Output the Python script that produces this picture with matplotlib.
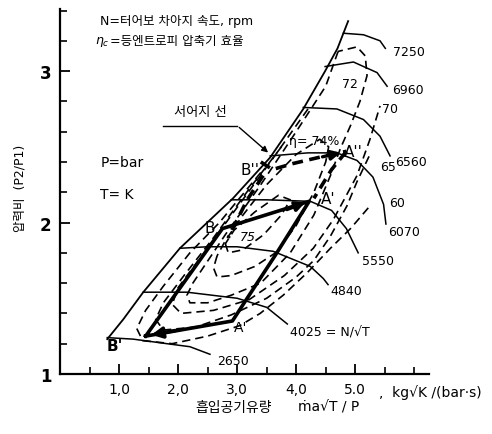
import numpy as np
import matplotlib.pyplot as plt
from matplotlib.ticker import MultipleLocator

plt.rcParams['font.family'] = ['DejaVu Sans', 'Noto Sans CJK KR']

# surge line
surge_x = [0.80, 1.07, 1.41, 2.03, 2.93, 3.56, 4.12, 4.49, 4.70, 4.88]
surge_y = [1.23, 1.36, 1.54, 1.83, 2.16, 2.43, 2.75, 3.00, 3.15, 3.33]

# constant speed lines (N/sqrt(T))
speed_labels = ['2650', '4025 = N/√T', '4840', '5550', '6070', '6560', '6960', '7250']
speed_x = [
    [0.80, 1.24, 1.81, 2.20, 2.54],
    [1.41, 2.15, 3.00, 3.50, 3.85],
    [2.03, 2.50, 3.00, 3.61, 4.24, 4.46, 4.54],
    [2.90, 3.50, 4.24, 4.60, 4.85, 5.05],
    [3.56, 4.20, 4.69, 5.03, 5.30, 5.48, 5.52],
    [4.12, 4.69, 5.14, 5.42, 5.59],
    [4.49, 4.97, 5.37, 5.54],
    [4.80, 5.14, 5.42, 5.51],
]
speed_y = [
    [1.24, 1.23, 1.20, 1.18, 1.13],
    [1.54, 1.54, 1.50, 1.44, 1.33],
    [1.83, 1.84, 1.84, 1.81, 1.71, 1.63, 1.59],
    [2.15, 2.15, 2.14, 2.08, 1.96, 1.80],
    [2.44, 2.46, 2.46, 2.41, 2.30, 2.12, 1.99],
    [2.76, 2.75, 2.68, 2.57, 2.44],
    [3.03, 3.06, 2.99, 2.90],
    [3.25, 3.24, 3.20, 3.15],
]
speed_lab_pos = [(2.66, 1.09), (3.90, 1.28), (4.58, 1.55), (5.12, 1.75),
                 (5.55, 1.94), (5.68, 2.40), (5.63, 2.88), (5.64, 3.13)]

# efficiency contours (dashed)
eff_labels = ['60', '65', '70', '72', '74', '75']
eff_x = [
    [3.40, 2.70, 2.20, 1.75, 1.45, 1.30, 1.40, 1.90, 2.50, 3.05, 3.39, 3.78, 4.19, 4.58, 4.92, 5.25],
    [3.75, 3.20, 2.60, 2.10, 1.75, 1.62, 1.75, 2.30, 2.90, 3.50, 4.00, 4.30, 4.58, 4.86, 5.03, 5.25],
    [4.20, 3.60, 3.00, 2.40, 2.00, 1.90, 2.05, 2.60, 3.20, 3.80, 4.29, 4.63, 5.03, 5.25, 5.42],
    [4.71, 4.50, 4.00, 3.40, 2.80, 2.25, 2.15, 2.20, 2.50, 2.90, 3.40, 3.90, 4.30, 4.58, 4.75, 4.92, 5.08, 5.20, 5.17, 5.03, 4.71],
    [2.66, 2.60, 2.66, 2.90, 3.30, 3.65, 4.00, 4.30, 4.50, 4.55, 4.40, 4.00, 3.50, 3.10, 2.80, 2.66],
    [2.80, 2.85, 3.10, 3.45, 3.75, 3.90, 3.70, 3.30, 2.95, 2.80],
]
eff_y = [
    [2.33, 2.00, 1.80, 1.58, 1.42, 1.30, 1.22, 1.20, 1.25, 1.32, 1.40, 1.52, 1.67, 1.83, 1.96, 2.11],
    [2.50, 2.22, 1.90, 1.65, 1.47, 1.36, 1.29, 1.31, 1.39, 1.50, 1.64, 1.75, 1.91, 2.11, 2.27, 2.45],
    [2.75, 2.42, 2.10, 1.78, 1.57, 1.46, 1.40, 1.42, 1.49, 1.65, 1.83, 2.02, 2.31, 2.55, 2.77],
    [3.13, 2.90, 2.60, 2.25, 1.92, 1.60, 1.52, 1.47, 1.47, 1.52, 1.60, 1.80, 2.05, 2.31, 2.49, 2.64, 2.80, 2.97, 3.10, 3.16, 3.13],
    [1.78, 1.70, 1.64, 1.65, 1.71, 1.80, 1.98, 2.20, 2.40, 2.50, 2.55, 2.45, 2.25, 2.05, 1.88, 1.78],
    [1.86, 1.80, 1.82, 1.92, 2.05, 2.15, 2.18, 2.07, 1.95, 1.86],
]

# operating paths
solid_x = [1.45, 2.75, 4.22, 3.64, 3.17, 2.92, 1.45]
solid_y = [1.25, 1.96, 2.14, 1.78, 1.50, 1.35, 1.25]
dash1_x = [3.40, 3.60, 3.95, 4.60, 4.85]
dash1_y = [2.40, 2.35, 2.39, 2.45, 2.47]
dash2_x = [3.44, 3.17, 2.85]
dash2_y = [2.31, 2.15, 1.90]
dash3_x = [4.85, 4.60, 4.30]
dash3_y = [2.47, 2.35, 2.16]

fig = plt.figure(figsize=(4.92, 4.35), dpi=100)
ax = fig.add_axes([0.122, 0.138, 0.75, 0.839])
ax.set_xlim(0, 6.25)
ax.set_ylim(1, 3.41)

for s in ['top', 'right']:
    ax.spines[s].set_visible(False)
for s in ['left', 'bottom']:
    ax.spines[s].set_linewidth(1.6)

ax.set_xticks([1, 2, 3, 4, 5])
ax.set_xticklabels(['1,0', '2,0', '3,0', '4,0', '5.0'], fontsize=10)
ax.set_yticks([1, 2, 3])
ax.set_yticklabels(['1', '2', '3'], fontsize=12, fontweight='bold')
ax.xaxis.set_minor_locator(MultipleLocator(0.5))
ax.yaxis.set_minor_locator(MultipleLocator(0.2))
ax.tick_params(which='major', direction='in', length=7, width=1.3, pad=6)
ax.tick_params(which='minor', direction='in', length=5, width=1.2)
ax.text(5.4, 0.885, ',  kg√K /(bar·s)', fontsize=10, va='center', clip_on=False)

# map lines
ax.plot(surge_x, surge_y, color='k', lw=1.3)
for xs, ys, lab, pos in zip(speed_x, speed_y, speed_labels, speed_lab_pos):
    ax.plot(xs, ys, color='k', lw=1.1)
    ax.text(pos[0], pos[1], lab, fontsize=9, va='center', ha='left')

for xs, ys in zip(eff_x, eff_y):
    ax.plot(xs, ys, color='k', lw=1.2, linestyle=(0, (5, 3)))

ax.text(5.45, 2.75, '70', fontsize=9, va='center')
ax.text(5.43, 2.37, '65', fontsize=9, va='center')
ax.text(5.58, 2.13, '60', fontsize=9, va='center')
ax.text(4.78, 2.92, '72', fontsize=9, va='center')
ax.text(3.05, 1.91, '75', fontsize=9, va='center', style='italic')
ax.text(3.88, 2.54, 'η= 74%', fontsize=9, va='center')

# operating lines
ax.plot(solid_x, solid_y, color='k', lw=2.6, solid_joinstyle='round')
for xs, ys in [(dash1_x, dash1_y), (dash2_x, dash2_y), (dash3_x, dash3_y)]:
    ax.plot(xs, ys, color='k', lw=2.6, linestyle=(0, (3, 1.8)))
ax.annotate('', xy=(1.50, 1.255), xytext=(2.0, 1.29),
            arrowprops=dict(arrowstyle='-|>', color='k', lw=2.6, mutation_scale=16))
ax.annotate('', xy=(4.2, 2.14), xytext=(3.8, 2.08),
            arrowprops=dict(arrowstyle='-|>', color='k', lw=2.6, mutation_scale=14))
ax.annotate('', xy=(4.80, 2.465), xytext=(4.4, 2.43),
            arrowprops=dict(arrowstyle='-|>', color='k', lw=2.4, mutation_scale=14))

ax.text(2.54, 1.97, 'B', fontsize=11, ha='center', va='center')
ax.text(3.22, 2.35, "B''", fontsize=11, ha='center', va='center')
ax.text(4.55, 2.16, "A'", fontsize=11, ha='center', va='center')
ax.text(4.97, 2.47, "A''", fontsize=11, ha='center', va='center')
ax.text(3.05, 1.31, "A'", fontsize=10, ha='center', va='center')
ax.text(0.92, 1.19, "B'", fontsize=11, ha='center', va='center', fontweight='bold')

ax.text(0.68, 2.40, 'P=bar', fontsize=10, va='center')
ax.text(0.68, 2.19, 'T= K', fontsize=10, va='center')

# surge label with leader
ax.text(2.37, 2.73, '서어지 선', fontsize=9.5, ha='center', va='center')
ax.plot([1.75, 3.0], [2.64, 2.64], color='k', lw=1.0)
ax.annotate('', xy=(3.56, 2.45), xytext=(3.0, 2.64),
            arrowprops=dict(arrowstyle='-|>', color='k', lw=1.0, mutation_scale=9))

fig.text(100 / 492, 1 - 22 / 435, 'N=터어보 차아지 속도, rpm', fontsize=9, va='center')
fig.text(95 / 492, 1 - 42 / 435, r'$\eta_c$', fontsize=9, va='center')
fig.text(110 / 492, 1 - 42 / 435, '=등엔트로피 압축기 효율', fontsize=9, va='center')
fig.text(20 / 492, 1 - 188 / 435, '압력비  (P2/P1)', fontsize=9, rotation=90,
         ha='center', va='center')
fig.text(195 / 492, 1 - 408 / 435, '흡입공기유량', fontsize=10, va='center')
fig.text(298 / 492, 1 - 408 / 435, 'ṁa√T / P', fontsize=10, va='center')

fig.savefig('out.png', dpi=100)
